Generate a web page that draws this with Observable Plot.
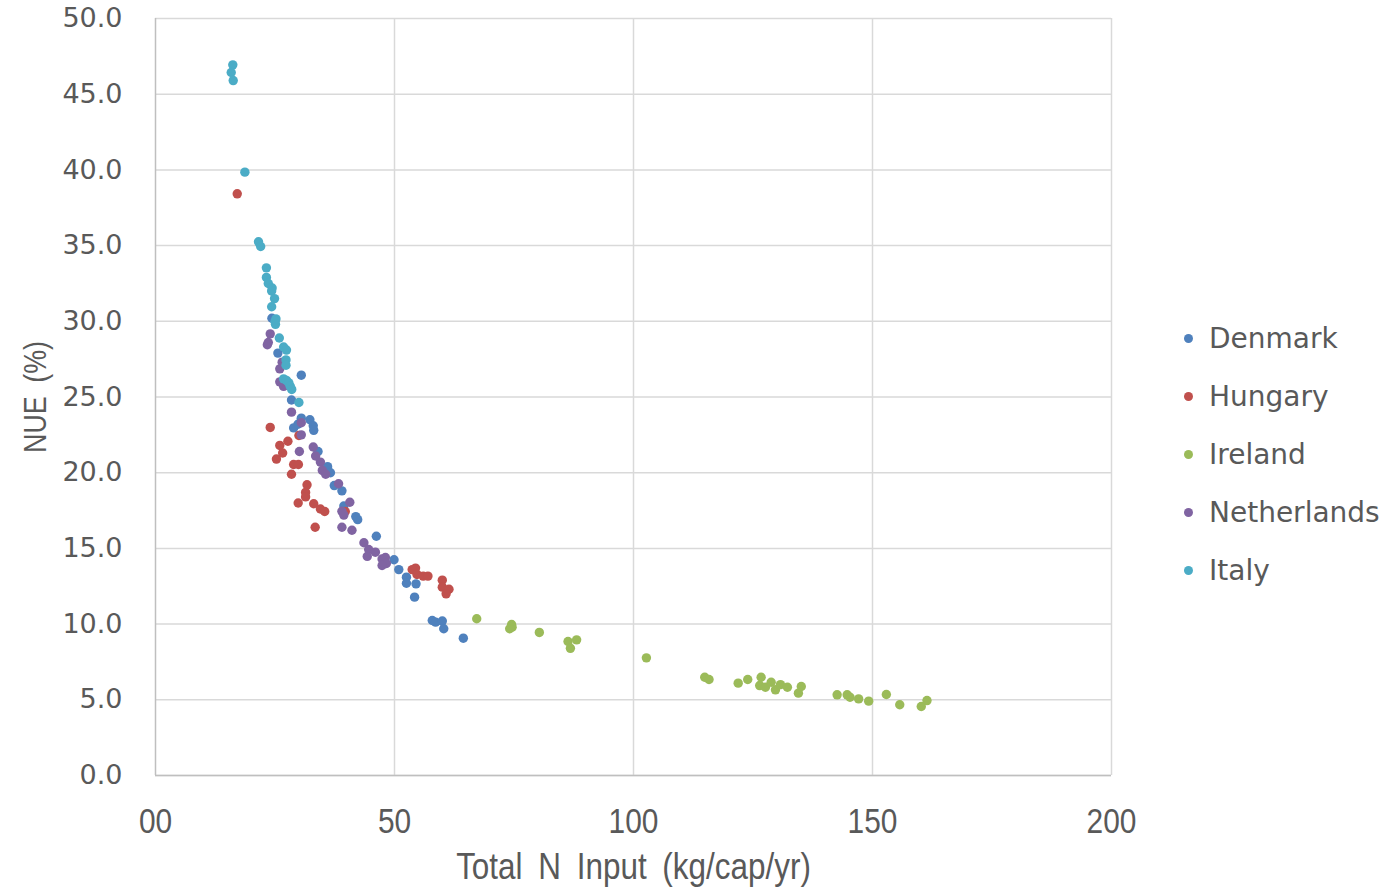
<!DOCTYPE html>
<html>
<head>
<meta charset="utf-8">
<script src="https://cdn.jsdelivr.net/npm/d3@7"></script>
<script src="https://cdn.jsdelivr.net/npm/@observablehq/plot@0.6"></script>
<style>
  html, body { margin: 0; padding: 0; background: #fff; }
  #wrap { position: relative; width: 1389px; height: 890px; overflow: hidden; }
  #legend { position: absolute; left: 1180px; top: 309px; font-family: "DejaVu Sans", Verdana, sans-serif; font-size: 28px; color: #595959; }
  .item { height: 58px; display: flex; align-items: center; white-space: nowrap; }
  .sw { width: 9px; height: 9px; border-radius: 50%; margin-left: 4px; margin-right: 16px; }
</style>
</head>
<body>
<div id="wrap"><div id="legend"></div></div>
<script>
const countries = ["Denmark", "Hungary", "Ireland", "Netherlands", "Italy"];
const colors = ["#4F81BD", "#C0504D", "#9BBB59", "#8064A2", "#4BACC6"];
const xTicks = [0, 50, 100, 150, 200];
const xTickLabels = ["00", "50", "100", "150", "200"];
const yTicks = [0, 5, 10, 15, 20, 25, 30, 35, 40, 45, 50];
const xTitle = "Total\u2002N\u2002Input\u2002(kg/cap/yr)";
const yTitle = "NUE\u2002(%)";

// [Total N input, NUE] pairs per country
const denmark = [
  [24.35,30.2],[25.6,27.9],[30.5,26.44],[28.45,24.8],[30.5,23.6],[32.3,23.5],[33.0,23.1],[33.1,22.8],
  [28.9,22.96],[29.8,23.2],[34.0,21.4],[36.0,20.4],[36.6,20.0],[37.4,19.15],[39.0,18.8],[39.4,17.8],
  [41.9,17.1],[42.3,16.9],[46.2,15.8],[49.9,14.25],[50.9,13.6],[52.5,13.1],[52.5,12.7],[54.5,12.66],
  [54.2,11.78],[57.9,10.24],[58.6,10.13],[60.0,10.2],[60.3,9.69],[64.4,9.07]
];
const hungary = [
  [17.1,38.42],[24.0,22.99],[30.0,22.46],[27.7,22.08],[26.0,21.8],[26.6,21.3],[25.3,20.9],[28.9,20.54],
  [29.9,20.54],[28.45,19.9],[31.7,19.2],[31.4,18.7],[31.4,18.4],[29.85,18.0],[33.1,17.95],[34.5,17.6],
  [35.4,17.44],[39.7,17.44],[33.4,16.4],[53.7,13.6],[54.4,13.7],[54.7,13.28],[56.0,13.17],[57.0,13.17],
  [60.0,12.9],[60.0,12.44],[61.4,12.3],[60.8,12.0]
];
const ireland = [
  [67.2,10.35],[74.5,9.97],[74.6,9.8],[74.1,9.69],[80.3,9.45],[86.3,8.85],[88.1,8.96],[86.8,8.4],
  [102.7,7.77],[114.9,6.49],[115.8,6.34],[121.9,6.1],[123.9,6.34],[126.7,6.49],[126.4,5.94],[127.6,5.83],
  [128.8,6.16],[129.7,5.66],[130.75,6.0],[132.2,5.83],[135.1,5.88],[134.5,5.44],[142.6,5.33],[144.7,5.33],
  [145.3,5.17],[147.1,5.06],[149.2,4.91],[152.9,5.35],[155.7,4.67],[160.2,4.56],[161.4,4.95]
];
const netherlands = [
  [24.0,29.17],[23.6,28.6],[23.4,28.45],[26.5,27.3],[26.0,26.86],[26.0,26.0],[26.8,25.7],[28.45,24.0],
  [30.5,23.3],[30.5,22.5],[30.1,21.4],[33.0,21.7],[33.5,21.1],[34.5,20.7],[34.9,20.15],[35.6,19.9],
  [38.3,19.27],[40.65,18.05],[39.0,17.45],[39.4,17.2],[39.0,16.4],[41.1,16.2],[43.6,15.37],[44.6,14.93],
  [46.0,14.75],[44.3,14.47],[47.4,14.3],[48.1,14.4],[48.3,14.0],[47.4,13.87]
];
const italy = [
  [16.17,46.94],[15.84,46.43],[16.26,45.9],[18.7,39.85],[21.55,35.25],[22.0,34.94],[23.2,33.53],[23.2,32.9],
  [23.6,32.5],[24.4,32.2],[24.3,32.0],[24.9,31.5],[24.3,30.96],[25.2,30.16],[25.0,30.0],[25.1,29.8],
  [25.9,28.9],[26.8,28.3],[27.4,28.1],[27.3,27.45],[27.3,27.1],[26.8,26.2],[27.4,26.1],[27.9,25.93],
  [28.2,25.7],[28.5,25.5],[30.0,24.64]
];

const series = [denmark, hungary, ireland, netherlands, italy];
const data = series.flatMap((arr, i) => arr.map(([x, y]) => ({country: countries[i], x, y})));

const narrow = "'Liberation Sans', Arial, sans-serif";

const chart = Plot.plot({
  width: 1389,
  height: 890,
  marginLeft: 155,
  marginRight: 278,
  marginTop: 18,
  marginBottom: 115,
  style: {background: "#fff", color: "#595959"},
  x: {domain: [0, 200], axis: null},
  y: {domain: [0, 50], ticks: yTicks},
  color: {domain: countries, range: colors},
  marks: [
    Plot.gridY(yTicks, {stroke: "#d9d9d9", strokeOpacity: 1, strokeWidth: 1.5}),
    Plot.gridX(xTicks.filter(d => d > 0), {stroke: "#d9d9d9", strokeOpacity: 1, strokeWidth: 1.5}),
    Plot.ruleX([0], {stroke: "#bfbfbf", strokeWidth: 1.5}),
    Plot.ruleY([0], {stroke: "#bfbfbf", strokeWidth: 1.5}),
    Plot.axisY(yTicks, {tickSize: 0, tickPadding: 33, tickFormat: d => d.toFixed(1), label: null,
      fontSize: 27, fontFamily: "'DejaVu Sans', Verdana, sans-serif", fill: "#595959"}),
    Plot.text(xTicks, {x: d => d, text: (d, i) => xTickLabels[i], frameAnchor: "bottom", lineAnchor: "middle", dy: 46,
      fontSize: 36, fontFamily: narrow, fill: "#595959"}),
    Plot.text([xTitle], {frameAnchor: "bottom", lineAnchor: "middle", textAnchor: "middle", dy: 92, fontSize: 37, fontFamily: narrow, fill: "#595959"}),
    Plot.text([yTitle], {frameAnchor: "left", lineAnchor: "middle", textAnchor: "middle", dx: -120, rotate: -90, fontSize: 32, fontFamily: narrow, fill: "#595959"}),
    Plot.dot(data, {x: "x", y: "y", fill: "country", r: 4.7, stroke: null})
  ]
});
document.getElementById("wrap").prepend(chart);

// condensed look for the narrow-font texts (groups identified by their font size)
const condense = (size, k) => d3.select(chart).selectAll(`g[font-size="${size}"] text`).attr("transform", function() {
  return (this.getAttribute("transform") || "") + ` scale(${k},1)`;
});
condense(36, 0.83);
condense(37, 0.85);
condense(32, 0.84);

const legend = document.getElementById("legend");
countries.forEach((c, i) => {
  const item = document.createElement("div");
  item.className = "item";
  const sw = document.createElement("span");
  sw.className = "sw";
  sw.style.background = colors[i];
  const t = document.createElement("span");
  t.textContent = c;
  item.append(sw, t);
  legend.append(item);
});
</script>
</body>
</html>
